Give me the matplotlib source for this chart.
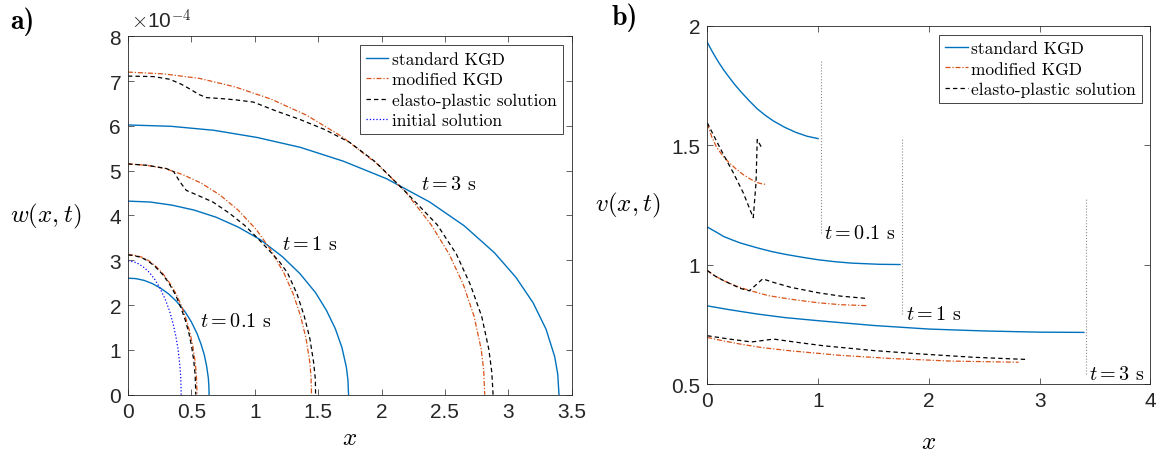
import matplotlib
matplotlib.use("Agg")
import matplotlib.pyplot as plt

plt.rcParams['mathtext.fontset'] = 'cm'
plt.rcParams['font.family'] = 'Liberation Sans'

BLUE = '#0072BD'
RED = '#D95319'

# ---- panel a): crack opening w(x,t)  (values in units of 1e-4)
# t = 0.1 s
x_std_01 = [0, 0.064, 0.128, 0.192, 0.256, 0.32, 0.384, 0.448, 0.499, 0.544, 0.576, 0.602, 0.621, 0.634, 0.638, 0.64]
w_std_01 = [2.6, 2.59, 2.55, 2.48, 2.38, 2.25, 2.08, 1.86, 1.63, 1.37, 1.13, 0.89, 0.63, 0.37, 0.2, 0]
x_mod_01 = [0, 0.055, 0.109, 0.164, 0.218, 0.273, 0.327, 0.382, 0.425, 0.463, 0.491, 0.512, 0.529, 0.54, 0.545]
w_mod_01 = [3.13, 3.11, 3.07, 2.99, 2.87, 2.71, 2.50, 2.24, 1.96, 1.65, 1.36, 1.07, 0.76, 0.44, 0]
x_ep_01 = [0, 0.054, 0.107, 0.16, 0.214, 0.268, 0.321, 0.375, 0.417, 0.455, 0.482, 0.503, 0.519, 0.53, 0.535]
w_ep_01 = [3.12, 3.1, 3.06, 2.98, 2.86, 2.70, 2.50, 2.23, 1.95, 1.64, 1.36, 1.06, 0.76, 0.44, 0]
x_init = [0, 0.042, 0.084, 0.126, 0.168, 0.21, 0.252, 0.294, 0.328, 0.357, 0.378, 0.395, 0.407, 0.416, 0.42]
w_init = [2.98, 2.97, 2.92, 2.84, 2.73, 2.58, 2.38, 2.13, 1.87, 1.57, 1.30, 1.02, 0.72, 0.42, 0]
# t = 1 s
x_std_1 = [0, 0.174, 0.348, 0.522, 0.696, 0.87, 1.044, 1.218, 1.357, 1.479, 1.566, 1.636, 1.688, 1.723, 1.735, 1.74]
w_std_1 = [4.32, 4.30, 4.23, 4.12, 3.96, 3.74, 3.46, 3.08, 2.70, 2.28, 1.88, 1.47, 1.05, 0.61, 0.33, 0]
x_mod_1 = [0, 0.145, 0.29, 0.434, 0.579, 0.724, 0.869, 1.014, 1.129, 1.231, 1.303, 1.361, 1.405, 1.434, 1.444, 1.448]
w_mod_1 = [5.15, 5.12, 5.05, 4.91, 4.72, 4.46, 4.12, 3.68, 3.22, 2.71, 2.25, 1.76, 1.25, 0.73, 0.4, 0]
x_ep_1 = [0, 0.15, 0.3, 0.36, 0.41, 0.46, 0.55, 0.67, 0.8, 0.92, 1.02, 1.12,
          1.2, 1.26, 1.333, 1.39, 1.435, 1.464, 1.478, 1.48]
w_ep_1 = [5.15, 5.12, 5.05, 4.98, 4.75, 4.56, 4.45, 4.3, 4.05, 3.78, 3.5, 3.2,
          2.95, 2.71, 2.25, 1.76, 1.25, 0.73, 0.35, 0]
# t = 3 s
x_std_3 = [0, 0.34, 0.68, 1.02, 1.36, 1.7, 2.04, 2.38, 2.652, 2.89, 3.06, 3.196, 3.298, 3.366, 3.39, 3.4]
w_std_3 = [6.02, 5.99, 5.90, 5.74, 5.52, 5.21, 4.82, 4.30, 3.77, 3.17, 2.62, 2.05, 1.46, 0.85, 0.46, 0]
x_mod_3 = [0, 0.281, 0.563, 0.844, 1.126, 1.407, 1.688, 1.97, 2.195, 2.392, 2.533, 2.645, 2.73, 2.786, 2.806, 2.814]
w_mod_3 = [7.2, 7.16, 7.06, 6.87, 6.60, 6.24, 5.76, 5.14, 4.51, 3.79, 3.14, 2.46, 1.75, 1.02, 0.55, 0]
x_ep_3 = [0, 0.2, 0.33, 0.42, 0.49, 0.56, 0.62, 0.73, 0.85, 0.99, 1.17, 1.35,
          1.55, 1.75, 1.95, 2.2, 2.44, 2.59, 2.70, 2.79, 2.846, 2.87, 2.88]
w_ep_3 = [7.11, 7.1, 7.04, 6.93, 6.82, 6.7, 6.63, 6.61, 6.58, 6.53, 6.33, 6.15,
          5.92, 5.63, 5.2, 4.5, 3.79, 3.14, 2.46, 1.75, 1.02, 0.5, 0]

# ---- panel b): fluid velocity v(x,t)
xv_std_01 = [0, 0.05, 0.1, 0.15, 0.2, 0.25, 0.3, 0.375, 0.45, 0.525, 0.6, 0.7, 0.8, 0.9, 1.0]
v_std_01 = [1.93, 1.887, 1.848, 1.813, 1.782, 1.752, 1.725, 1.687, 1.652, 1.624, 1.60, 1.574, 1.553, 1.537, 1.527]
xv_mod_01 = [0, 0.04, 0.085, 0.14, 0.2, 0.26, 0.32, 0.38, 0.44, 0.49, 0.535]
v_mod_01 = [1.59, 1.535, 1.49, 1.455, 1.425, 1.4, 1.378, 1.36, 1.345, 1.338, 1.335]
xv_ep_01 = [0, 0.069, 0.145, 0.235, 0.325, 0.415, 0.44, 0.451, 0.491]
v_ep_01 = [1.593, 1.53, 1.461, 1.384, 1.30, 1.196, 1.343, 1.523, 1.489]
xv_std_1 = [0, 0.08, 0.15, 0.225, 0.3, 0.45, 0.575, 0.7, 0.85, 1.0, 1.15, 1.3, 1.55, 1.74]
v_std_1 = [1.157, 1.136, 1.117, 1.103, 1.09, 1.07, 1.055, 1.043, 1.031, 1.02, 1.012, 1.006, 1.001, 1.0]
xv_mod_1 = [0, 0.07, 0.15, 0.26, 0.37, 0.55, 0.75, 1.0, 1.2, 1.44]
v_mod_1 = [0.975, 0.952, 0.932, 0.91, 0.893, 0.87, 0.855, 0.84, 0.832, 0.828]
xv_ep_1 = [0, 0.07, 0.15, 0.3, 0.38, 0.5, 0.6, 0.75, 1.0, 1.2, 1.44]
v_ep_1 = [0.975, 0.952, 0.932, 0.9, 0.89, 0.94, 0.925, 0.905, 0.882, 0.868, 0.858]
xv_std_3 = [0, 0.2, 0.45, 0.7, 1.0, 1.5, 2.0, 2.5, 3.0, 3.4]
v_std_3 = [0.827, 0.811, 0.793, 0.778, 0.765, 0.745, 0.73, 0.722, 0.717, 0.716]
xv_mod_3 = [0, 0.15, 0.3, 0.5, 0.75, 1.2, 1.65, 2.2, 2.81]
v_mod_3 = [0.695, 0.68, 0.667, 0.652, 0.639, 0.62, 0.607, 0.596, 0.591]
xv_ep_3 = [0, 0.2, 0.4, 0.6, 0.8, 1.05, 1.5, 1.95, 2.4, 2.87]
v_ep_3 = [0.702, 0.688, 0.676, 0.688, 0.675, 0.66, 0.64, 0.625, 0.612, 0.603]

# time labels and their leader lines in panel b)
lead_x = [1.026, 1.76, 3.42]
lead_top = [1.858, 1.526, 1.273]
lead_bot = [1.134, 0.792, 0.542]
time_labels = [r'$t=0.1$ s', r'$t=1$ s', r'$t=3$ s']

ls_mod = (0, (4, 1.5, 1, 1.5))
ls_ep = (0, (3.5, 2.5))

fig = plt.figure(figsize=(11.57, 4.52), dpi=100)
ax1 = fig.add_axes([0.1106, 0.1246, 0.3835, 0.793])
ax2 = fig.add_axes([0.6113, 0.1482, 0.383, 0.793])

# panel a
ax1.plot(x_std_01, w_std_01, color=BLUE, lw=1.0, label='standard KGD')
ax1.plot(x_mod_01, w_mod_01, color=RED, lw=0.9, ls=ls_mod, label='modified KGD')
ax1.plot(x_ep_01, w_ep_01, color='k', lw=0.9, ls=ls_ep, label='elasto-plastic solution')
ax1.plot(x_init, w_init, color='b', lw=0.9, ls=':', label='initial solution')
for xs, ws in [(x_std_1, w_std_1), (x_std_3, w_std_3)]:
    ax1.plot(xs, ws, color=BLUE, lw=1.0)
for xs, ws in [(x_mod_1, w_mod_1), (x_mod_3, w_mod_3)]:
    ax1.plot(xs, ws, color=RED, lw=0.9, ls=ls_mod)
for xs, ws in [(x_ep_1, w_ep_1), (x_ep_3, w_ep_3)]:
    ax1.plot(xs, ws, color='k', lw=0.9, ls=ls_ep)

ax1.set_xlim(0, 3.5)
ax1.set_ylim(0, 8)
ax1.set_xticks([0, 0.5, 1, 1.5, 2, 2.5, 3, 3.5])
ax1.set_xticklabels(['0', '0.5', '1', '1.5', '2', '2.5', '3', '3.5'])
ax1.set_yticks(range(9))
ax1.text(0.007, 1.012, r'$\times$10$^{-4}$', transform=ax1.transAxes,
         fontsize=15, color='0.15', ha='left', va='bottom')
ax1.text(0.569, 1.65, r'$t=0.1$ s', fontsize=14.5, family='cmr10', va='center')
ax1.text(1.214, 3.36, r'$t=1$ s', fontsize=14.5, family='cmr10', va='center')
ax1.text(2.31, 4.70, r'$t=3$ s', fontsize=14.5, family='cmr10', va='center')

# panel b
ax2.plot(xv_std_01, v_std_01, color=BLUE, lw=1.0, label='standard KGD')
ax2.plot(xv_mod_01, v_mod_01, color=RED, lw=0.9, ls=ls_mod, label='modified KGD')
ax2.plot(xv_ep_01, v_ep_01, color='k', lw=0.9, ls=ls_ep, label='elasto-plastic solution')
for xs, vs in [(xv_std_1, v_std_1), (xv_std_3, v_std_3)]:
    ax2.plot(xs, vs, color=BLUE, lw=1.0)
for xs, vs in [(xv_mod_1, v_mod_1), (xv_mod_3, v_mod_3)]:
    ax2.plot(xs, vs, color=RED, lw=0.9, ls=ls_mod)
for xs, vs in [(xv_ep_1, v_ep_1), (xv_ep_3, v_ep_3)]:
    ax2.plot(xs, vs, color='k', lw=0.9, ls=ls_ep)
for lx, lt, lb, lab in zip(lead_x, lead_top, lead_bot, time_labels):
    ax2.plot([lx, lx], [lb, lt], color='0.55', lw=0.8, ls=':')
    ax2.text(lx + 0.03, lb, lab, fontsize=14.5, family='cmr10', va='center',
             clip_on=False)

ax2.set_xlim(0, 4)
ax2.set_ylim(0.5, 2)
ax2.set_xticks([0, 1, 2, 3, 4])
ax2.set_yticks([0.5, 1, 1.5, 2])
ax2.set_yticklabels(['0.5', '1', '1.5', '2'])

for ax, ylab, ylx, xly in [(ax1, r'$w(x,t)$', -0.185, -0.118),
                           (ax2, r'$v(x,t)$', -0.179, -0.159)]:
    ax.tick_params(direction='in', top=True, right=True, length=4, width=0.5,
                   labelsize=15, colors='0.15', pad=5)
    for sp in ax.spines.values():
        sp.set_linewidth(0.6)
        sp.set_color('0.15')
    ax.set_ylabel(ylab, fontsize=18, rotation=0, va='center', ha='center')
    ax.yaxis.set_label_coords(ylx, 0.5)
    ax.set_xlabel(r'$x$', fontsize=18, va='center')
    ax.xaxis.set_label_coords(0.5, xly)

leg_kw = dict(loc='upper right', borderaxespad=0, fancybox=False, edgecolor='0.15',
              framealpha=1, prop={'family': 'cmr10', 'size': 12.5}, handlelength=1.3,
              handletextpad=0.2, labelspacing=0.3, borderpad=0.35)
leg1 = ax1.legend(bbox_to_anchor=(1 - 9 / 443.7, 1 - 9 / 358.4), **leg_kw)
leg1.get_frame().set_linewidth(0.6)
leg2 = ax2.legend(bbox_to_anchor=(1 - 8.5 / 443.2, 1 - 9 / 358.5), **leg_kw)
leg2.get_frame().set_linewidth(0.6)

fig.text(0.0086, 0.951, 'a)', family='cmb10', fontsize=20, va='center')
fig.text(0.529, 0.96, 'b)', family='cmb10', fontsize=20, va='center')

fig.savefig('out.png', dpi=100)
